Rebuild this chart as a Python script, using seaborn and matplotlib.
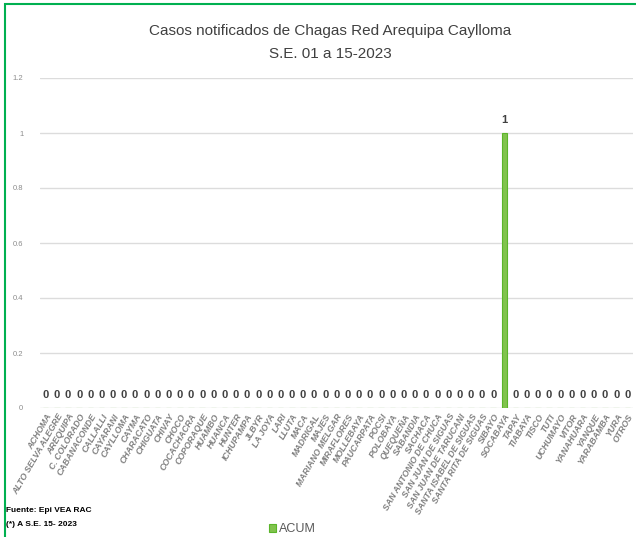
import matplotlib
matplotlib.use("Agg")
import matplotlib.pyplot as plt
import matplotlib.patches as mpatches
import seaborn as sns
import pandas as pd

distritos = ["ACHOMA", "ALTO SELVA ALEGRE", "AREQUIPA", "C. COLORADO", "CABANACONDE",
             "CALLALLI", "CAYARANI", "CAYLLOMA", "CAYMA", "CHARACATO", "CHIGUATA",
             "CHIVAY", "CHOCO", "COCACHACRA", "COPORAQUE", "HUAMBO", "HUANCA", "HUNTER",
             "ICHUPAMPA", "JLBYR", "LA JOYA", "LARI", "LLUTA", "MACA", "MADRIGAL", "MAJES",
             "MARIANO MELGAR", "MIRAFLORES", "MOLLEBAYA", "PAUCARPATA", "POCSI", "POLOBAYA",
             "QUEQUEÑA", "SABANDIA", "SACHACA", "SAN ANTONIO DE CHUCA", "SAN JUAN DE SIGUAS",
             "SAN JUAN DE TARUCANI", "SANTA ISABEL DE SIGUAS", "SANTA RITA DE SIGUAS",
             "SIBAYO", "SOCABAYA", "TAPAY", "TIABAYA", "TISCO", "TUTI", "UCHUMAYO", "VITOR",
             "YANAHUARA", "YANQUE", "YARABAMBA", "YURA", "OTROS"]
casos = [0] * len(distritos)
casos[distritos.index("SOCABAYA")] = 1
serie = "ACUM"
yticks = [0, 0.2, 0.4, 0.6, 0.8, 1, 1.2]
ytick_labels = ["0", "0.2", "0.4", "0.6", "0.8", "1", "1.2"]

df = pd.DataFrame({"distrito": distritos, "casos": casos, "serie": serie})

sns.set_theme(style="white")
plt.rcParams["font.family"] = ["Liberation Sans Narrow", "Liberation Sans", "DejaVu Sans"]

W, H = 636, 537
fig = plt.figure(figsize=(W / 100, H / 100), dpi=100)
ax = fig.add_axes([40 / W, 1 - 408 / H, (633 - 40) / W, (408 - 78) / H])

green = "#7ED63A"
sns.barplot(data=df, x="distrito", y="casos", hue="serie", palette=[green],
            width=0.5, edgecolor="#5BB52A", linewidth=0.8, ax=ax, dodge=False)

ax.set_ylim(0, 1.2)
ax.set_xlim(-0.5, len(distritos) - 0.5)
ax.set_yticks(yticks)
ax.set_yticklabels(ytick_labels, fontsize=5.5, color="#8C8C8C")
ax.tick_params(axis="y", length=0, pad=12)
ax.tick_params(axis="x", length=0, pad=3)
ax.yaxis.grid(True, color="#DCDCDC", linewidth=1)
ax.set_axisbelow(True)
for s in ax.spines.values():
    s.set_visible(False)
ax.set_xlabel("")
ax.set_ylabel("")
ax.set_xticks(range(len(distritos)))
ax.set_xticklabels(distritos, rotation=60, ha="right", rotation_mode="anchor",
                   fontsize=6.3, fontstyle="italic", fontweight="bold", color="#808080",
                   family="Liberation Sans")

for cont in ax.containers:
    ax.bar_label(cont, fmt="%g", padding=6, fontsize=8, fontweight="bold", color="#404040")

sns.move_legend(ax, "center", bbox_to_anchor=(292 / W, 1 - 529 / H),
                bbox_transform=fig.transFigure, title=None, frameon=False,
                fontsize=9, handlelength=0.6, handleheight=0.6, handletextpad=0.2)
for t in ax.get_legend().get_texts():
    t.set_color("#595959")

fig.text(330 / W, 1 - 31 / H, "Casos notificados de Chagas Red Arequipa Caylloma",
         ha="center", va="center", fontsize=11, color="#404040")
fig.text(330 / W, 1 - 54 / H, "S.E. 01 a 15-2023",
         ha="center", va="center", fontsize=11, color="#404040")

fig.text(6 / W, 1 - 511 / H, "Fuente: Epi VEA RAC", ha="left", va="center",
         fontsize=6, fontweight="bold", color="#000000")
fig.text(6 / W, 1 - 525 / H, "(*) A S.E. 15- 2023", ha="left", va="center",
         fontsize=6, fontweight="bold", color="#000000")

border = mpatches.Rectangle((5 / W, -0.1), 1.2, 1 - 4 / H + 0.1, transform=fig.transFigure,
                            fill=False, edgecolor="#00B050", linewidth=1.5, clip_on=False)
fig.patches.append(border)

fig.savefig("out.png", dpi=100)
